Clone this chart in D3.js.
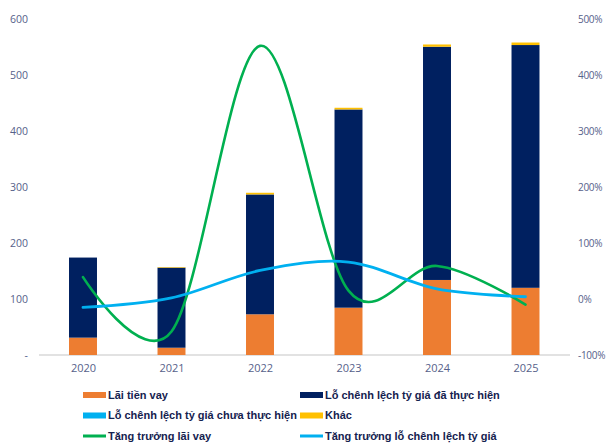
<!DOCTYPE html>
<html>
<head>
<meta charset="utf-8">
<script src="https://cdn.jsdelivr.net/npm/d3@7"></script>
<style>
  html, body { margin: 0; padding: 0; background: #ffffff; }
  svg { display: block; }
</style>
</head>
<body>
<svg id="chart" width="607" height="444"></svg>
<script>
// Years on the category axis
const years = ["2020", "2021", "2022", "2023", "2024", "2025"];

// Stacked bar components (tỷ đồng)
const laiTienVay = [31, 13, 72.7, 84.5, 134, 120];
const loDaThucHien = [143, 143, 214, 354, 416.5, 433.5];
const loChuaThucHien = [0, 0, 0, 0, 0, 0];
const khac = [0, 1, 3, 3, 4, 4.5];

// Growth lines (%), plotted on the right axis
const tangTruongLaiVay = [39, -58, 452, 15, 59, -10];
const tangTruongLoTyGia = [-15, 2, 51, 66, 18, 4];

// Tick labels
const leftTicks = [0, 100, 200, 300, 400, 500, 600];
const rightTicks = [-100, 0, 100, 200, 300, 400, 500];

const seriesNames = ["Lãi tiền vay", "Lỗ chênh lệch tỷ giá đã thực hiện",
  "Lỗ chênh lệch tỷ giá chưa thực hiện", "Khác"];
const lineNames = ["Tăng trưởng lãi vay", "Tăng trưởng lỗ chênh lệch tỷ giá"];

const colors = {
  lai: "#ED7D31",
  da: "#002060",
  chua: "#00B0F0",
  khac: "#FFC000",
  gLai: "#00B050",
  gLo: "#00B0F0"
};

const svg = d3.select("#chart");
const axisColor = "#56618a";
const fontFamily = "'Open Sans', 'Noto Sans', sans-serif";

const x = d3.scalePoint().domain(years).range([38.75, 569.75]).padding(0.5);
const barW = x.step() * 0.316;
const yL = d3.scaleLinear().domain([0, 600]).range([355, 19]);
const yR = d3.scaleLinear().domain([-100, 500]).range([355, 19]);

// Build the stack table from the component arrays
const keys = ["lai", "da", "chua", "khac"];
const table = years.map((yr, i) => ({
  year: yr, lai: laiTienVay[i], da: loDaThucHien[i], chua: loChuaThucHien[i], khac: khac[i]
}));
const stacked = d3.stack().keys(keys)(table);

// Baseline
svg.append("line")
  .attr("x1", 39).attr("x2", 570)
  .attr("y1", yL(0)).attr("y2", yL(0))
  .attr("stroke", "#d9d9d9").attr("stroke-width", 1.5);

// Bars
svg.append("g").selectAll("g")
  .data(stacked)
  .join("g")
  .attr("fill", d => colors[d.key])
  .selectAll("rect")
  .data(d => d)
  .join("rect")
  .attr("x", d => x(d.data.year) - barW / 2)
  .attr("width", barW)
  .attr("y", d => yL(d[1]))
  .attr("height", d => Math.max(0, yL(d[0]) - yL(d[1])));

// Left axis
const gL = svg.append("g")
  .attr("transform", "translate(28,0)")
  .call(d3.axisLeft(yL).tickValues(leftTicks).tickSize(0).tickPadding(0)
    .tickFormat(v => v === 0 ? "- " : d3.format("d")(v)));
gL.select(".domain").remove();
gL.selectAll("text").attr("fill", axisColor).style("font-family", fontFamily).style("font-size", "10.5px");

// Right axis
const gR = svg.append("g")
  .attr("transform", "translate(578,0)")
  .call(d3.axisRight(yR).tickValues(rightTicks).tickSize(0).tickPadding(0)
    .tickFormat(v => v + "%"));
gR.select(".domain").remove();
gR.selectAll("text").attr("fill", axisColor).style("font-family", fontFamily)
  .style("font-size", "10px").style("letter-spacing", "-0.3px");

// Bottom axis (year labels)
const gB = svg.append("g")
  .attr("transform", `translate(0,${yL(0)})`)
  .call(d3.axisBottom(x).tickSize(0).tickPadding(9));
gB.select(".domain").remove();
gB.selectAll("text").attr("fill", axisColor).style("font-family", fontFamily).style("font-size", "11px");

// Growth lines, smoothed
const line = d3.line()
  .x((d, i) => x(years[i]))
  .y(d => yR(d))
  .curve(d3.curveCardinal.tension(0));

svg.append("path")
  .datum(tangTruongLaiVay)
  .attr("d", line)
  .attr("fill", "none")
  .attr("stroke", colors.gLai)
  .attr("stroke-width", 2.6)
  .attr("stroke-linecap", "round");

svg.append("path")
  .datum(tangTruongLoTyGia)
  .attr("d", line)
  .attr("fill", "none")
  .attr("stroke", colors.gLo)
  .attr("stroke-width", 2.8)
  .attr("stroke-linecap", "round");

// Legend
const legendItems = [
  { name: seriesNames[0], color: colors.lai, type: "bar", col: 0, row: 0 },
  { name: seriesNames[1], color: colors.da, type: "bar", col: 1, row: 0 },
  { name: seriesNames[2], color: colors.chua, type: "bar", col: 0, row: 1 },
  { name: seriesNames[3], color: colors.khac, type: "bar", col: 1, row: 1 },
  { name: lineNames[0], color: colors.gLai, type: "line", col: 0, row: 2 },
  { name: lineNames[1], color: colors.gLo, type: "line", col: 1, row: 2 }
];
const colX = [83, 300];
const rowY = [395, 415.5, 436];

const lg = svg.append("g").selectAll("g")
  .data(legendItems)
  .join("g")
  .attr("transform", d => `translate(${colX[d.col]},${rowY[d.row]})`);

lg.append("rect")
  .attr("x", 0)
  .attr("y", d => d.type === "bar" ? -3 : -1.5)
  .attr("width", 23)
  .attr("height", d => d.type === "bar" ? 6 : 3)
  .attr("fill", d => d.color);

lg.append("text")
  .attr("x", 25)
  .attr("y", 0)
  .attr("dy", "0.35em")
  .attr("fill", "#15224f")
  .style("font-family", "'Liberation Sans', Arial, sans-serif")
  .style("font-weight", "bold")
  .style("font-size", "11px")
  .text(d => d.name);
</script>
</body>
</html>
